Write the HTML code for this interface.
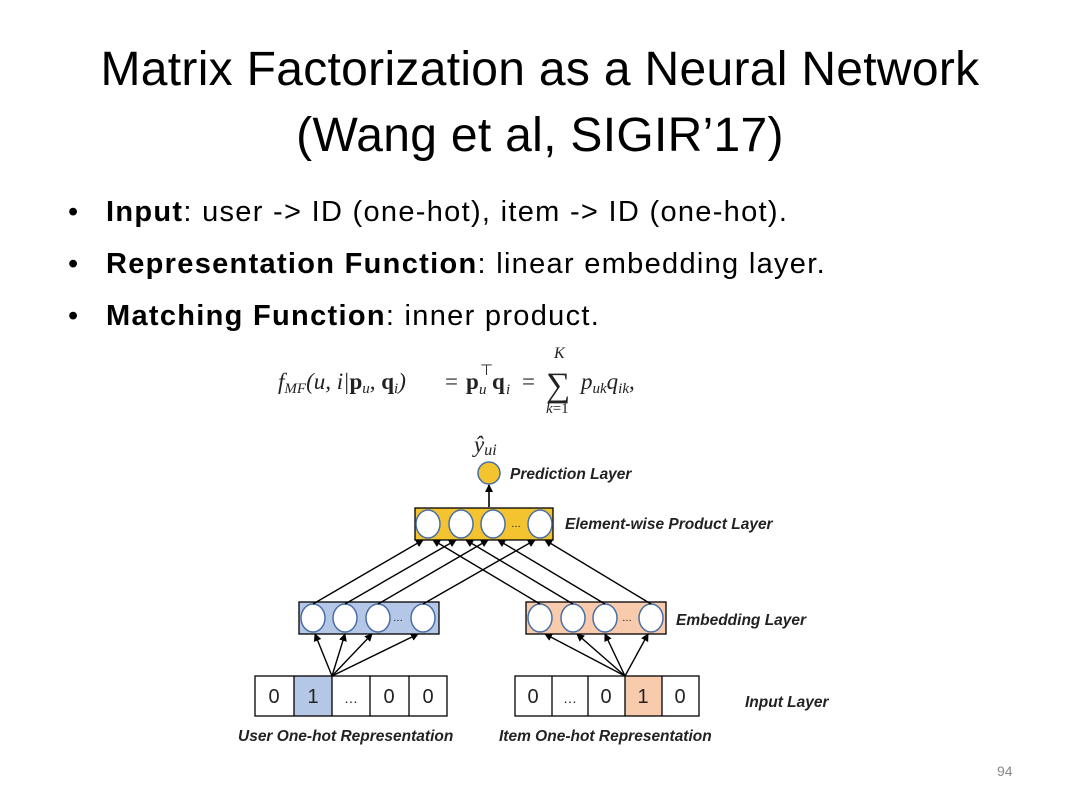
<!DOCTYPE html>
<html><head><meta charset="utf-8"><style>
body{margin:0;width:1080px;height:810px;background:#fff;overflow:hidden;position:relative;font-family:"Liberation Sans",sans-serif}
.t{position:absolute;left:0;width:1080px;text-align:center;font-size:48px;color:#000;line-height:56px;letter-spacing:0.3px}
.b{position:absolute;left:68px;font-size:29px;color:#000;letter-spacing:1.3px}
.b span.d{position:absolute;left:0}
.b .x{position:absolute;left:38px;white-space:nowrap}
</style></head><body>
<div class="t" style="top:42px">Matrix Factorization as a Neural Network</div>
<div class="t" style="top:108px">(Wang et al, SIGIR’17)</div>
<div class="b" style="top:196px"><span class="d">•</span><span class="x"><b>Input</b>: user -&gt; ID (one-hot), item -&gt; ID (one-hot).</span></div>
<div class="b" style="top:248px"><span class="d">•</span><span class="x"><b>Representation Function</b>: linear embedding layer.</span></div>
<div class="b" style="top:300px"><span class="d">•</span><span class="x"><b>Matching Function</b>: inner product.</span></div>
<svg width="1080" height="810" style="position:absolute;left:0;top:0">
<defs><marker id="a" markerWidth="8" markerHeight="8" refX="7" refY="4" orient="auto" markerUnits="userSpaceOnUse"><path d="M0,0 L8,4 L0,8z" fill="#000"/></marker></defs>
<g font-family="Liberation Serif,serif" font-style="italic" font-size="23" fill="#222">
<text x="278" y="389">f<tspan font-size="15" dy="4">MF</tspan><tspan dy="-4">(u, i|</tspan><tspan font-weight="bold" font-style="normal">p</tspan><tspan font-size="15" dy="4">u</tspan><tspan dy="-4">, </tspan><tspan font-weight="bold" font-style="normal">q</tspan><tspan font-size="15" dy="4">i</tspan><tspan dy="-4">)</tspan></text>
<text x="445" y="389" font-style="normal">=</text>
<text x="466" y="389" font-weight="bold" font-style="normal">p</text>
<text x="479" y="394" font-size="15">u</text>
<text x="480" y="375" font-size="15" font-style="normal">⊤</text>
<text x="492" y="389" font-weight="bold" font-style="normal">q</text>
<text x="506" y="394" font-size="15">i</text>
<text x="522" y="389" font-style="normal">=</text>
<text x="546" y="396" font-size="34" font-style="normal">∑</text>
<text x="554" y="358" font-size="16">K</text>
<text x="546" y="413" font-size="15">k<tspan font-style="normal">=1</tspan></text>
<text x="581" y="389">p<tspan font-size="15" dy="4">uk</tspan><tspan dy="-4">q</tspan><tspan font-size="15" dy="4">ik</tspan><tspan dy="-4">,</tspan></text>
<text x="474" y="452">ŷ<tspan font-size="16" dy="3">ui</tspan></text>
</g>
<circle cx="489" cy="473" r="11" fill="#f4c430" stroke="#4a6fa5" stroke-width="1.5"/>
<line x1="489" y1="507" x2="489" y2="485" stroke="#000" stroke-width="1.6" marker-end="url(#a)"/>
<rect x="415" y="508" width="138" height="32" fill="#f4c430" stroke="#000" stroke-width="1.3"/>
<g fill="#fff" stroke="#4a6fa5" stroke-width="1.5">
<ellipse cx="428" cy="524" rx="12" ry="14"/><ellipse cx="461" cy="524" rx="12" ry="14"/><ellipse cx="493" cy="524" rx="12" ry="14"/><ellipse cx="540" cy="524" rx="12" ry="14"/>
</g>
<text x="511" y="527" font-size="10">…</text>
<rect x="299" y="602" width="140" height="32" fill="#b4c7e7" stroke="#000" stroke-width="1.3"/>
<rect x="526" y="602" width="140" height="32" fill="#f8cbad" stroke="#000" stroke-width="1.3"/>
<g fill="#fff" stroke="#4a6fa5" stroke-width="1.5">
<ellipse cx="313" cy="618" rx="12" ry="14"/><ellipse cx="345" cy="618" rx="12" ry="14"/><ellipse cx="378" cy="618" rx="12" ry="14"/><ellipse cx="423" cy="618" rx="12" ry="14"/>
<ellipse cx="540" cy="618" rx="12" ry="14"/><ellipse cx="573" cy="618" rx="12" ry="14"/><ellipse cx="605" cy="618" rx="12" ry="14"/><ellipse cx="651" cy="618" rx="12" ry="14"/>
</g>
<text x="393" y="621" font-size="10">…</text><text x="622" y="621" font-size="10">…</text>
<g stroke="#000" stroke-width="1.4" marker-end="url(#a)">
<line x1="313" y1="604" x2="423" y2="540"/><line x1="345" y1="604" x2="456" y2="540"/><line x1="378" y1="604" x2="488" y2="540"/><line x1="423" y1="604" x2="535" y2="540"/>
<line x1="540" y1="604" x2="433" y2="540"/><line x1="573" y1="604" x2="466" y2="540"/><line x1="605" y1="604" x2="498" y2="540"/><line x1="651" y1="604" x2="545" y2="540"/>
<line x1="332" y1="676" x2="315" y2="634"/><line x1="332" y1="676" x2="345" y2="634"/><line x1="332" y1="676" x2="372" y2="634"/><line x1="332" y1="676" x2="418" y2="634"/>
<line x1="625" y1="676" x2="545" y2="634"/><line x1="625" y1="676" x2="577" y2="634"/><line x1="625" y1="676" x2="605" y2="634"/><line x1="625" y1="676" x2="648" y2="634"/>
</g>
<rect x="294" y="676" width="38" height="40" fill="#b4c7e7"/>
<rect x="625" y="676" width="37" height="40" fill="#f8cbad"/>
<g fill="none" stroke="#000" stroke-width="1.3">
<rect x="255" y="676" width="192" height="40"/><line x1="294" y1="676" x2="294" y2="716"/><line x1="332" y1="676" x2="332" y2="716"/><line x1="370" y1="676" x2="370" y2="716"/><line x1="409" y1="676" x2="409" y2="716"/>
<rect x="515" y="676" width="184" height="40"/><line x1="552" y1="676" x2="552" y2="716"/><line x1="588" y1="676" x2="588" y2="716"/><line x1="625" y1="676" x2="625" y2="716"/><line x1="662" y1="676" x2="662" y2="716"/>
</g>
<g font-size="20" fill="#222" text-anchor="middle">
<text x="274" y="703">0</text><text x="313" y="703">1</text><text x="351" y="703" font-size="14">…</text><text x="389" y="703">0</text><text x="428" y="703">0</text>
<text x="533" y="703">0</text><text x="570" y="703" font-size="14">…</text><text x="606" y="703">0</text><text x="643" y="703">1</text><text x="680" y="703">0</text>
</g>
<g font-size="15.5" font-weight="bold" font-style="italic" fill="#222">
<text x="510" y="479">Prediction Layer</text>
<text x="565" y="529">Element-wise Product Layer</text>
<text x="676" y="625">Embedding Layer</text>
<text x="745" y="707">Input Layer</text>
<text x="238" y="741">User One-hot Representation</text>
<text x="499" y="741">Item One-hot Representation</text>
</g>
<text x="997" y="776" font-size="14" fill="#888">94</text>
</svg>
</body></html>
